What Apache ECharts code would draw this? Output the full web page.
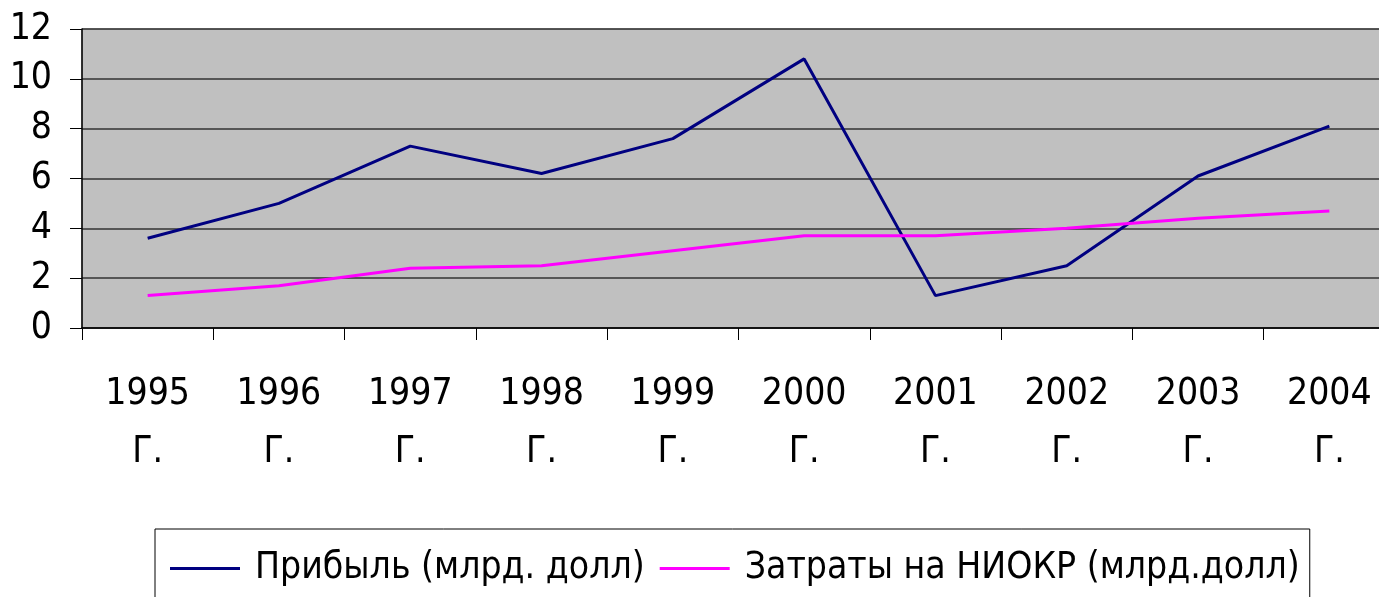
<!DOCTYPE html>
<html>
<head>
<meta charset="utf-8">
<script src="https://cdn.jsdelivr.net/npm/echarts@6/dist/echarts.min.js"></script>
<style>
  html, body { margin: 0; padding: 0; background: #ffffff; overflow: hidden; }
  /* the plot runs past the right edge of the window, so the canvas is wider than the viewport */
  #chart { width: 1400px; height: 597px; }
</style>
</head>
<body>
<div id="chart"></div>
<script>
// Годы наблюдений
const years = ['1995 Г.', '1996 Г.', '1997 Г.', '1998 Г.', '1999 Г.', '2000 Г.', '2001 Г.', '2002 Г.', '2003 Г.', '2004 Г.'];
// Прибыль, млрд. долл
const profit = [3.6, 5.0, 7.3, 6.2, 7.6, 10.8, 1.3, 2.5, 6.1, 8.1];
// Затраты на НИОКР, млрд. долл
const rdCosts = [1.3, 1.7, 2.4, 2.5, 3.1, 3.7, 3.7, 4.0, 4.4, 4.7];
const seriesNames = ['Прибыль (млрд. долл)', 'Затраты на НИОКР (млрд.долл)'];

const FONT = "'Liberation Sans Narrow', 'DejaVu Sans Condensed', 'Liberation Sans', sans-serif";

const chart = echarts.init(document.getElementById('chart'), null, { renderer: 'canvas' });
chart.setOption({
  animation: false,
  backgroundColor: '#ffffff',
  textStyle: { fontFamily: FONT },
  grid: {
    left: 82,
    top: 29,
    width: 1313,
    bottom: 269,
    show: true,
    backgroundColor: '#C0C0C0',
    borderColor: '#808080',
    borderWidth: 1
  },
  legend: {
    left: 155,
    top: 529,
    padding: [21, 10, 30, 15],
    itemGap: 15,
    itemWidth: 70,
    itemHeight: 3,
    borderColor: '#000000',
    borderWidth: 1,
    icon: 'rect',
    textStyle: { fontFamily: FONT, fontSize: 37, color: '#000000', padding: [0, 0, 0, 10] },
    data: seriesNames
  },
  xAxis: {
    type: 'category',
    data: years,
    boundaryGap: true,
    axisLine: { lineStyle: { color: '#000000', width: 1.5 } },
    axisTick: { show: true, length: 12, lineStyle: { color: '#000000' } },
    axisLabel: {
      interval: 0,
      margin: 37,
      fontFamily: FONT,
      fontSize: 37,
      lineHeight: 58,
      color: '#000000',
      formatter: v => v.replace(' ', '\n')
    },
    splitLine: { show: false }
  },
  yAxis: {
    type: 'value',
    min: 0,
    max: 12,
    interval: 2,
    axisLine: { show: true, lineStyle: { color: '#000000', width: 1.5 } },
    axisTick: { show: true, length: 12, lineStyle: { color: '#000000' } },
    axisLabel: { margin: 30, fontFamily: FONT, fontSize: 37, color: '#000000' },
    splitLine: { show: true, lineStyle: { color: '#333333', width: 1.5 } }
  },
  series: [
    {
      name: seriesNames[0],
      type: 'line',
      data: profit,
      symbol: 'none',
      itemStyle: { color: '#000080' },
      lineStyle: { color: '#000080', width: 3 }
    },
    {
      name: seriesNames[1],
      type: 'line',
      data: rdCosts,
      symbol: 'none',
      itemStyle: { color: '#FF00FF' },
      lineStyle: { color: '#FF00FF', width: 3 }
    }
  ]
});
</script>
</body>
</html>
